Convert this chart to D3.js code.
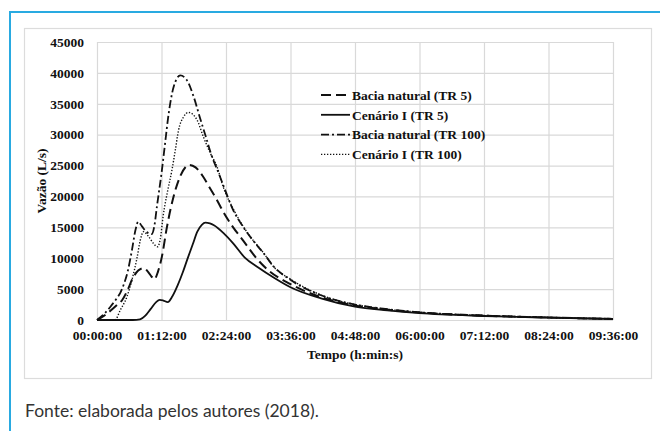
<!DOCTYPE html>
<html>
<head>
<meta charset="utf-8">
<script src="https://cdn.jsdelivr.net/npm/d3@7"></script>
<style>
  html, body { margin: 0; padding: 0; background: #fff; }
  svg { display: block; }
</style>
</head>
<body>
<div id="grafico"></div>
<script>
// hidrogramas - tempo em minutos, vazao em L/s

const tempoBaciaTR5 = [0, 8, 15, 22, 28, 34, 40, 46, 52, 57, 61, 64, 68, 72.5, 78, 85.5, 93, 103, 110, 118, 125, 134, 141, 152, 163, 178, 190, 216, 250, 288, 324, 360, 432, 504, 576];
const vazaoBaciaTR5 = [0, 700, 1500, 2400, 3200, 4800, 6800, 8000, 8400, 7800, 7000, 6600, 7800, 10300, 15000, 20000, 23300, 25100, 24700, 23300, 21600, 19400, 17500, 15000, 12900, 10000, 8200, 5800, 3700, 2350, 1650, 1200, 700, 400, 170];

const tempoCenarioTR5 = [0, 40, 48, 54, 60, 66, 70, 74, 79, 84, 90, 96, 101, 107, 112, 117, 121, 126, 131, 141, 152, 165, 180, 198, 216, 250, 288, 324, 360, 432, 504, 576];
const vazaoCenarioTR5 = [0, 0, 100, 700, 1800, 2900, 3250, 3150, 2900, 3800, 5600, 7800, 9900, 12300, 14300, 15400, 15750, 15650, 15300, 14100, 12400, 10100, 8500, 6800, 5300, 3500, 2150, 1550, 1100, 650, 370, 160];

const tempoBaciaTR100 = [0, 8, 15, 22, 26, 30, 34, 39, 43, 46, 50, 55, 61, 64, 67, 72.5, 76, 80, 85.5, 93, 100, 108, 115, 121, 128, 136, 141, 152, 163, 174, 186, 197, 216, 250, 288, 324, 360, 432, 504, 576];
const vazaoBaciaTR100 = [0, 1000, 2150, 3500, 4400, 5800, 7700, 11300, 14600, 15900, 15200, 14300, 13900, 15200, 18500, 24300, 28600, 33400, 37700, 39600, 38900, 36100, 32700, 29900, 26600, 23700, 21800, 17800, 15100, 12900, 10800, 8700, 6500, 4000, 2500, 1750, 1250, 720, 410, 170];

const tempoCenarioTR100 = [0, 20, 26, 33.5, 39, 44.6, 48.3, 52, 57.6, 63, 67.5, 70.5, 74, 79, 83.7, 87.4, 91, 96.7, 102.2, 111.6, 118.6, 126.5, 134, 141, 152, 163, 174, 186, 197, 216, 250, 288, 324, 360, 432, 504, 576];
const vazaoCenarioTR100 = [0, 0, 1600, 3800, 6500, 10000, 12900, 14300, 13500, 12400, 11850, 13000, 17000, 21000, 24300, 27500, 30700, 32900, 33600, 32400, 29700, 27000, 24800, 21500, 18000, 15200, 12950, 10850, 8650, 6600, 4050, 2500, 1750, 1250, 720, 410, 170];

const nomiSerie = ["Bacia natural (TR 5)", "Cenário I (TR 5)", "Bacia natural (TR 100)", "Cenário I (TR 100)"];

const yTicks = [0, 5000, 10000, 15000, 20000, 25000, 30000, 35000, 40000, 45000];
const xTicks = [0, 72, 144, 216, 288, 360, 432, 504, 576];
const xTickLabels = ["00:00:00", "01:12:00", "02:24:00", "03:36:00", "04:48:00", "06:00:00", "07:12:00", "08:24:00", "09:36:00"];

const titoloY = "Vazão (L/s)";
const titoloX = "Tempo (h:min:s)";
const fonte = "Fonte: elaborada pelos autores (2018).";

// stili delle linee (stesso ordine di nomiSerie)
const stili = [
    { dash: "10,5", width: 2 },
    { dash: null, width: 1.8 },
    { dash: "8,3,2,3", width: 1.8 },
    { dash: "1.3,1.7", width: 1.4 }
];

const series = [
    { tempo: tempoBaciaTR5, vazao: vazaoBaciaTR5 },
    { tempo: tempoCenarioTR5, vazao: vazaoCenarioTR5 },
    { tempo: tempoBaciaTR100, vazao: vazaoBaciaTR100 },
    { tempo: tempoCenarioTR100, vazao: vazaoCenarioTR100 }
].map((s, i) => ({
    nome: nomiSerie[i],
    stile: stili[i],
    punti: s.tempo.map((t, j) => ({ t: t, v: s.vazao[j] }))
}));

const W = 660, H = 431;
const serif = "'Liberation Serif', 'Times New Roman', serif";
const fs = "13.5px";

const svg = d3.select("#grafico")
    .append("svg")
    .attr("width", W)
    .attr("height", H);

// cornice blu esterna
svg.append("path")
    .attr("d", `M10,${H} L10,12 L${W},12`)
    .attr("fill", "none")
    .attr("stroke", "#29aae1")
    .attr("stroke-width", 2);

// riquadro del grafico
svg.append("rect")
    .attr("x", 24.5)
    .attr("y", 28.5)
    .attr("width", 627)
    .attr("height", 350)
    .attr("fill", "#fff")
    .attr("stroke", "#dcdcdc")
    .attr("stroke-width", 1.2);

const plot = { left: 97, top: 42, right: 613, bottom: 320 };

const x = d3.scaleLinear()
    .domain([0, 576])
    .range([plot.left, plot.right]);

const y = d3.scaleLinear()
    .domain([0, 45000])
    .range([plot.bottom, plot.top]);

// griglia
svg.append("g")
    .attr("class", "gridY")
    .attr("transform", `translate(${plot.left},0)`)
    .call(d3.axisLeft(y).tickValues(yTicks).tickSize(-(plot.right - plot.left)).tickFormat(""))
    .call(g => g.select(".domain").remove())
    .call(g => g.selectAll("line").attr("stroke", "#d9d9d9").attr("stroke-width", 1.2));

svg.append("g")
    .attr("class", "gridX")
    .attr("transform", `translate(0,${plot.bottom})`)
    .call(d3.axisBottom(x).tickValues(xTicks).tickSize(-(plot.bottom - plot.top)).tickFormat(""))
    .call(g => g.select(".domain").remove())
    .call(g => g.selectAll("line").attr("stroke", "#d9d9d9").attr("stroke-width", 1.2));

// assi (solo etichette)
svg.append("g")
    .attr("transform", `translate(${plot.left},0)`)
    .call(d3.axisLeft(y).tickValues(yTicks).tickSize(0).tickPadding(13).tickFormat(d3.format("d")))
    .call(g => g.select(".domain").remove())
    .call(g => g.selectAll("text")
        .attr("font-family", serif)
        .attr("font-weight", "bold")
        .attr("font-size", fs)
        .attr("fill", "#111"));

svg.append("g")
    .attr("transform", `translate(0,${plot.bottom})`)
    .call(d3.axisBottom(x).tickValues(xTicks).tickSize(0).tickPadding(10)
        .tickFormat((d, i) => xTickLabels[i]))
    .call(g => g.select(".domain").remove())
    .call(g => g.selectAll("text")
        .attr("font-family", serif)
        .attr("font-weight", "bold")
        .attr("font-size", fs)
        .attr("fill", "#111"));

// titoli degli assi
svg.append("text")
    .attr("transform", `translate(46,${(plot.top + plot.bottom) / 2}) rotate(-90)`)
    .attr("text-anchor", "middle")
    .attr("font-family", serif)
    .attr("font-weight", "bold")
    .attr("font-size", fs)
    .attr("fill", "#111")
    .text(titoloY);

svg.append("text")
    .attr("x", (plot.left + plot.right) / 2)
    .attr("y", 359)
    .attr("text-anchor", "middle")
    .attr("font-family", serif)
    .attr("font-weight", "bold")
    .attr("font-size", fs)
    .attr("fill", "#111")
    .text(titoloX);

// curve
const linea = d3.line()
    .x(d => x(d.t))
    .y(d => y(d.v))
    .curve(d3.curveMonotoneX);

svg.append("g")
    .selectAll("path")
    .data(series)
    .join("path")
    .attr("d", d => linea(d.punti))
    .attr("fill", "none")
    .attr("stroke", "#111")
    .attr("stroke-width", d => d.stile.width)
    .attr("stroke-dasharray", d => d.stile.dash);

// legenda
const legenda = svg.append("g")
    .attr("transform", "translate(321,95)");

const voci = legenda.selectAll("g")
    .data(series)
    .join("g")
    .attr("transform", (d, i) => `translate(0,${i * 19.8})`);

voci.append("line")
    .attr("x1", 0)
    .attr("x2", 29)
    .attr("y1", 0)
    .attr("y2", 0)
    .attr("stroke", "#111")
    .attr("stroke-width", d => d.stile.width)
    .attr("stroke-dasharray", d => d.stile.dash);

voci.append("text")
    .attr("x", 31)
    .attr("y", 0)
    .attr("dy", "0.35em")
    .attr("font-family", serif)
    .attr("font-weight", "bold")
    .attr("font-size", fs)
    .attr("fill", "#111")
    .text(d => d.nome);

// fonte
svg.append("text")
    .attr("x", 25)
    .attr("y", 417)
    .attr("font-family", "Lato, 'Open Sans', sans-serif")
    .attr("font-size", "17.5px")
    .attr("fill", "#333")
    .text(fonte);
</script>
</body>
</html>
